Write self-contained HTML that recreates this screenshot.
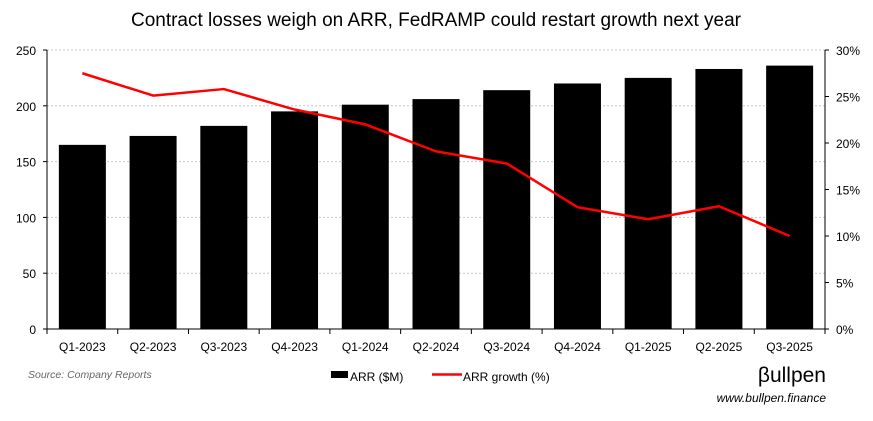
<!DOCTYPE html>
<html><head><meta charset="utf-8">
<style>
html,body{margin:0;padding:0;background:#fff;}
body{width:873px;height:416px;overflow:hidden;font-family:"Liberation Sans",sans-serif;}
svg text{font-family:"Liberation Sans",sans-serif;}
</style></head>
<body>
<svg id="chart" width="873" height="416" xmlns="http://www.w3.org/2000/svg">
<text x="436" y="26" text-anchor="middle" font-size="19" fill="#000">Contract losses weigh on ARR, FedRAMP could restart growth next year</text>
<g id="grid"></g><g id="bars"></g><g id="axes"></g><g id="line"></g><g id="labels"></g>
<text x="28" y="378" font-size="10.5" font-style="italic" fill="#666">Source: Company Reports</text>
<rect x="331" y="371" width="17" height="7" fill="#000"/>
<text x="350" y="381" font-size="12" fill="#000">ARR ($M)</text>
<line x1="432" y1="374.5" x2="462" y2="374.5" stroke="#f00" stroke-width="2.5"/>
<text x="463" y="381" font-size="12" fill="#000">ARR growth (%)</text>
<text x="826" y="382" text-anchor="end" font-size="21" fill="#000">βullpen</text>
<text x="826" y="402" text-anchor="end" font-size="12" font-style="italic" fill="#000">www.bullpen.finance</text>
</svg>
<script>
const categories = ["Q1-2023","Q2-2023","Q3-2023","Q4-2023","Q1-2024","Q2-2024","Q3-2024","Q4-2024","Q1-2025","Q2-2025","Q3-2025"];
const arrValues = [165,173,182,195,201,206,214,220,225,233,236];
const growthValues = [27.5,25.1,25.8,23.6,22.0,19.1,17.8,13.1,11.8,13.2,10.0];
const leftTicks = [0,50,100,150,200,250];
const rightTicks = [0,5,10,15,20,25,30];

const NS="http://www.w3.org/2000/svg";
const X0=47,X1=825,Y0=329,Y1=50;
const step=(X1-X0)/categories.length;
const xc=i=>X0+step*(i+0.5);
const yL=v=>Y0-(v/250)*(Y0-Y1);
const yR=v=>Y0-(v/30)*(Y0-Y1);
function mk(tag,attrs,parent){const e=document.createElementNS(NS,tag);for(const k in attrs)e.setAttribute(k,attrs[k]);document.getElementById(parent).appendChild(e);return e;}

leftTicks.forEach(t=>{
  if(t>0){const g=mk('line',{x1:X0,x2:X1,y1:yL(t),y2:yL(t),stroke:'#c8c8c8','stroke-dasharray':'2,2','stroke-width':1},'grid');
  
  }
  const tx=mk('text',{x:36,y:yL(t)+5,'text-anchor':'end','font-size':12,fill:'#000'},'labels');tx.textContent=t;
  
  
  const tk=mk('line',{x1:X0-4,x2:X0,y1:yL(t),y2:yL(t),stroke:'#000'},'axes');
  
  
});
rightTicks.forEach(t=>{
  const tx=mk('text',{x:836,y:yR(t)+5,'font-size':12,fill:'#000'},'labels');tx.textContent=t+'%';
  
  
  const tk=mk('line',{x1:X1,x2:X1+4,y1:yR(t),y2:yR(t),stroke:'#000'},'axes');
  
  
});
let a=mk('line',{x1:X0,x2:X0,y1:Y1,y2:Y0,stroke:'#000'},'axes');


a=mk('line',{x1:X1,x2:X1,y1:Y1,y2:Y0,stroke:'#000'},'axes');


a=mk('line',{x1:X0,x2:X1,y1:Y0,y2:Y0,stroke:'#000'},'axes');


for(let i=0;i<=categories.length;i++){
  const tk=mk('line',{x1:X0+step*i,x2:X0+step*i,y1:Y0,y2:Y0+5,stroke:'#000'},'axes');
  
  
}
const bw=47;
categories.forEach((c,i)=>{
  const b=mk('rect',{x:xc(i)-bw/2,y:yL(arrValues[i]),width:bw,height:Y0-yL(arrValues[i]),fill:'#000'},'bars');
  
  
  const tx=mk('text',{x:xc(i),y:351,'text-anchor':'middle','font-size':12,fill:'#000'},'labels');tx.textContent=c;
  
  
});
const pts=growthValues.map((v,i)=>xc(i)+','+yR(v)).join(' ');
const pl=mk('polyline',{points:pts,fill:'none',stroke:'#f00','stroke-width':2.5,'stroke-linejoin':'round'},'line');


</script>
</body></html>
